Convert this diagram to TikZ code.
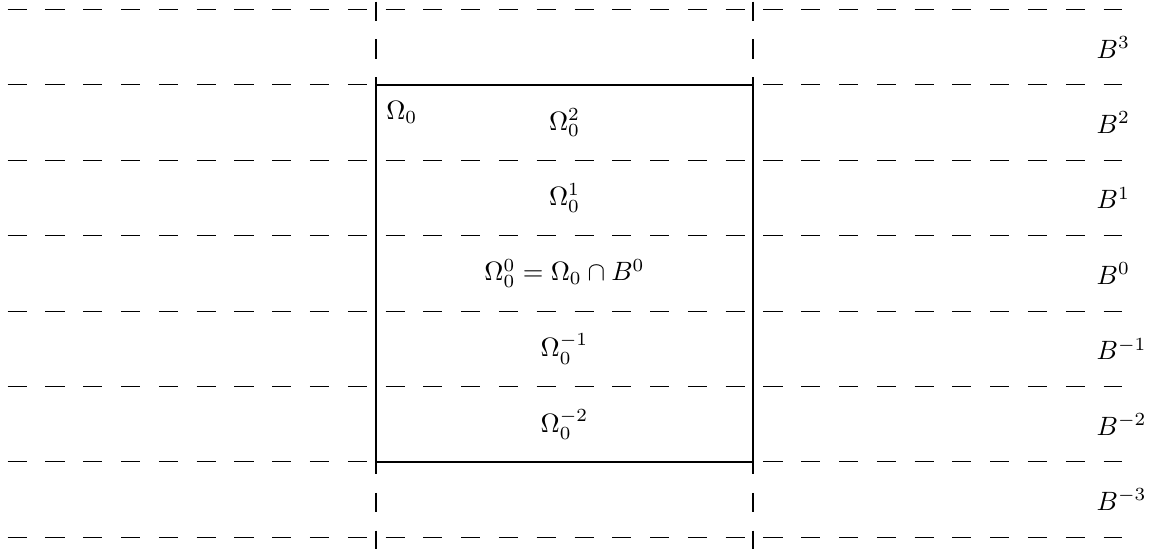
\documentclass[tikz,border=0pt]{standalone}
\begin{document}
\begin{tikzpicture}[
  band/.style={dash pattern=on 7.2pt off 7.06pt, line width=0.4pt},
  lab/.style={inner sep=0pt},
  blab/.style={inner sep=0pt, anchor=west}
]
\useasboundingbox (-4.987,-1.194) rectangle (10.252,6.127);
% horizontal dashed lines
\foreach \y in {-1,0,...,6}
  \draw[band] (-4.885,\y) -- (9.89,\y);
% vertical dashed lines
\foreach \x in {0,5}
  \draw[band] (\x,6.105) -- (\x,-1.15);
% domain box
\draw[line width=0.45pt] (0,0) rectangle (5,5);
\node[lab, anchor=base west] (om) at (0.13,4.54) {$\Omega_0$};
\node[lab] (o2) at (2.5,4.5) {$\Omega_0^2$};
\node[lab] (o1) at (2.5,3.5) {$\Omega_0^1$};
\node[lab] (o0) at (2.5,2.5) {$\Omega_0^0 = \Omega_0 \cap B^0$};
\node[lab] (om1) at (2.5,1.5) {$\Omega_0^{-1}$};
\node[lab] (om2) at (2.5,0.5) {$\Omega_0^{-2}$};
% B labels
\node[blab] (b3) at (9.55,5.5) {$B^3$};
\node[blab] (b2) at (9.55,4.5) {$B^2$};
\node[blab] (b1) at (9.55,3.5) {$B^1$};
\node[blab] (b0) at (9.55,2.5) {$B^0$};
\node[blab] (bm1) at (9.55,1.5) {$B^{-1}$};
\node[blab] (bm2) at (9.55,0.5) {$B^{-2}$};
\node[blab] (bm3) at (9.55,-0.5) {$B^{-3}$};
\end{tikzpicture}
\end{document}
